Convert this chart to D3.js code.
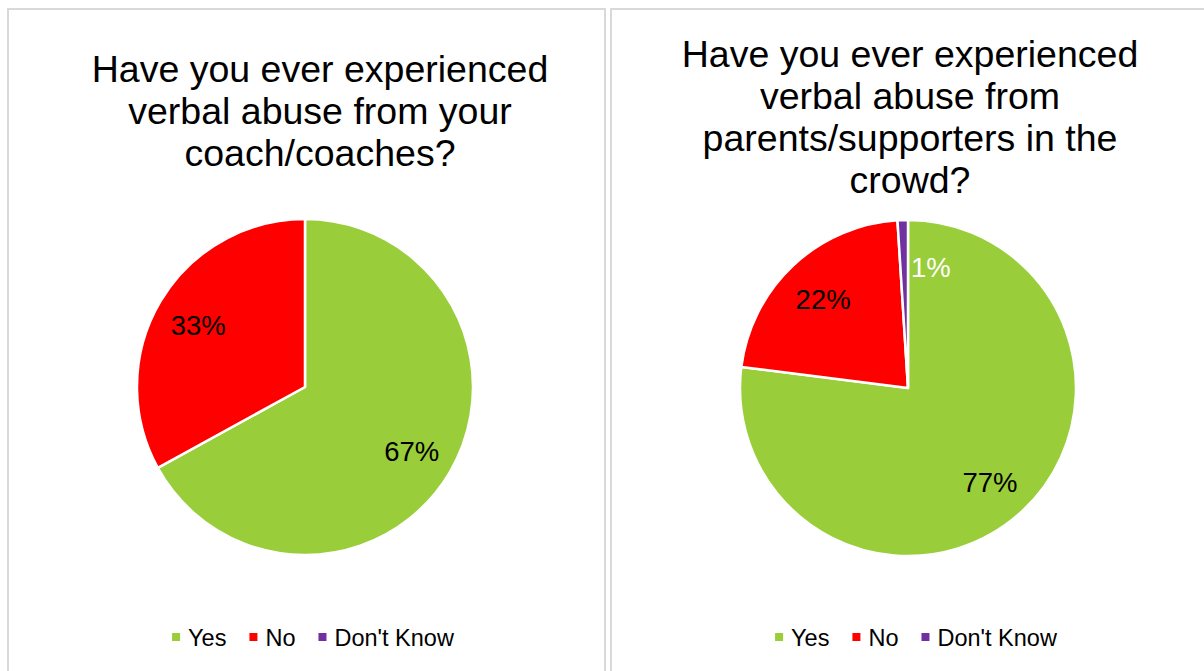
<!DOCTYPE html>
<html>
<head>
<meta charset="utf-8">
<script src="https://cdn.jsdelivr.net/npm/d3@7"></script>
<style>
  html, body { margin: 0; padding: 0; background: #fff; }
  svg { display: block; font-family: "Liberation Sans", Arial, sans-serif; }
</style>
</head>
<body>
<svg id="chart" width="1204" height="671"></svg>
<script>
// ---- Data ----
const categories = ["Yes", "No", "Don't Know"];
const coachValues = [67, 33, 0];
const crowdValues = [77, 22, 1];
const coachTitle = ["Have you ever experienced", "verbal abuse from your", "coach/coaches?"];
const crowdTitle = ["Have you ever experienced", "verbal abuse from", "parents/supporters in the", "crowd?"];
const colors = ["#9ACD3A", "#FF0000", "#7030A0"];

// ---- Layout ----
const svg = d3.select("#chart");
const panels = [
  { x: 8, w: 597, values: coachValues, title: coachTitle, titleX: 320, titleY: 82, cx: 305, cy: 387, legendX: 313 },
  { x: 611, w: 610, values: crowdValues, title: crowdTitle, titleX: 910, titleY: 67, cx: 908, cy: 388, legendX: 916 }
];
const R = 168;
const labelR = 124;
const color = d3.scaleOrdinal().domain(categories).range(colors);

panels.forEach(p => {
  const g = svg.append("g");
  g.append("rect")
    .attr("x", p.x).attr("y", 9).attr("width", p.w).attr("height", 700)
    .attr("fill", "none").attr("stroke", "#d9d9d9").attr("stroke-width", 2);

  // title
  const t = g.append("text")
    .attr("text-anchor", "middle")
    .attr("font-size", 37.5)
    .attr("fill", "#000");
  p.title.forEach((line, i) => {
    t.append("tspan").attr("x", p.titleX).attr("y", p.titleY + i * 42).text(line);
  });

  // pie
  const data = categories.map((c, i) => ({ cat: c, value: p.values[i] }));
  const pie = d3.pie().sort(null).value(d => d.value);
  const arcs = pie(data);
  const arc = d3.arc().innerRadius(0).outerRadius(R);
  const labelArc = d3.arc().innerRadius(labelR).outerRadius(labelR);
  const pg = g.append("g").attr("transform", `translate(${p.cx},${p.cy})`);
  pg.selectAll("path").data(arcs.filter(a => a.value > 0)).join("path")
    .attr("d", arc)
    .attr("fill", d => color(d.data.cat))
    .attr("stroke", "#fff").attr("stroke-width", 2.5).attr("stroke-linejoin", "round");

  pg.selectAll("text").data(arcs.filter(a => a.value > 0)).join("text")
    .attr("transform", d => {
      let c;
      if (d.value < 3) {
        const a = d.endAngle + 0.185;
        c = [labelR * Math.sin(a), -labelR * Math.cos(a)];
      } else {
        c = labelArc.centroid(d);
      }
      return `translate(${c[0]},${c[1]})`;
    })
    .attr("text-anchor", "middle")
    .attr("dy", "0.4em")
    .attr("font-size", 27.5)
    .attr("fill", d => d.value < 3 ? "#fff" : "#000")
    .text(d => d.value + "%");

  // legend
  const lg = g.append("g");
  const items = lg.selectAll("g").data(categories).join("g");
  items.append("rect").attr("width", 8).attr("height", 8).attr("y", 633)
    .attr("fill", d => color(d));
  items.append("text").attr("x", 16).attr("y", 646)
    .attr("font-size", 23.5).attr("fill", "#000").text(d => d);
  let xo = 0;
  items.each(function() {
    const w = d3.select(this).select("text").node().getComputedTextLength();
    d3.select(this).attr("transform", `translate(${xo},0)`);
    xo += 16 + w + 23;
  });
  const total = xo - 23;
  lg.attr("transform", `translate(${p.legendX - total / 2},0)`);
});
</script>
</body>
</html>
